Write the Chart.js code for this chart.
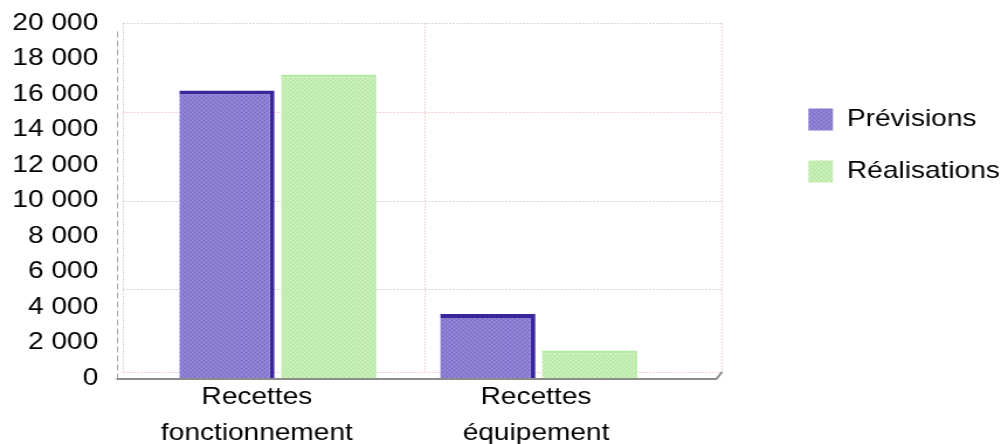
<!DOCTYPE html>
<html lang="fr">
<head>
<meta charset="utf-8">
<title>Recettes</title>
<script src="https://cdn.jsdelivr.net/npm/chart.js@4"></script>
<style>
  html, body { margin: 0; background: #fff; }
  canvas { display: block; }
</style>
</head>
<body>
<!-- the original picture is stretched sideways, so the canvas is too -->
<canvas id="recettesChart" width="856" height="444" style="width:1001px;height:444px"></canvas>
<script>
const categories = [['Recettes', 'fonctionnement'], ['Recettes', 'équipement']];
const previsions = [16200, 3600];
const realisations = [17100, 1550];
const yTicks = [0, 2000, 4000, 6000, 8000, 10000, 12000, 14000, 16000, 18000, 20000];
const gridValues = [0, 5000, 10000, 15000, 20000];

// x axis layout (in category units)
const X_MIN = -0.594;
const UNIT_PX = 223.1;
const MID_LINE = 0.563;
const FRAME_RIGHT = 1.70;
const LABEL_SHIFT = [-0.08, -0.01]; // the category labels sit a bit left of the bars

const xFont = { family: 'Liberation Sans, Arial, sans-serif', size: 24, lineHeight: 1.5 };
const yFont = { family: 'Liberation Sans, Arial, sans-serif', size: 24, lineHeight: 1.2 };
const legendFont = { family: 'Liberation Sans, Arial, sans-serif', size: 24 };

const canvas = document.getElementById('recettesChart');
const ctx = canvas.getContext('2d');

function makePattern(base, dotA, dotB) {
  const c = document.createElement('canvas');
  c.width = 4;
  c.height = 4;
  const g = c.getContext('2d');
  g.fillStyle = base;
  g.fillRect(0, 0, 4, 4);
  g.fillStyle = dotA;
  g.fillRect(0, 0, 1, 1);
  g.fillRect(2, 2, 1, 1);
  g.fillStyle = dotB;
  g.fillRect(2, 0, 1, 1);
  g.fillRect(0, 2, 1, 1);
  return ctx.createPattern(c, 'repeat');
}

function formatNumber(v) {
  return String(v).replace(/\B(?=(\d{3})+(?!\d))/g, ' ');
}

function noPadding(scale) {
  scale.paddingTop = 0;
  scale.paddingBottom = 0;
  scale.paddingLeft = 0;
  scale.paddingRight = 0;
}

// dotted back wall, grid and floor line
const framePlugin = {
  id: 'frame',
  beforeDatasetsDraw(chart) {
    const { ctx, scales: { x, y } } = chart;
    const left = Math.round(x.getPixelForValue(X_MIN)) + 0.5;
    const mid = Math.round(x.getPixelForValue(MID_LINE)) + 0.5;
    const right = Math.round(x.getPixelForValue(FRAME_RIGHT)) + 0.5;
    const top = Math.round(y.getPixelForValue(20000)) + 0.5;
    const bottom = Math.round(y.getPixelForValue(0));

    ctx.save();
    ctx.lineWidth = 1;
    ctx.setLineDash([1, 2]);
    gridValues.forEach(v => {
      let py = Math.round(y.getPixelForValue(v)) + 0.5;
      if (v === 0) py -= 6;
      ctx.strokeStyle = (v === 0 || v === 15000) ? '#eca4a4' : '#b4b4b4';
      ctx.beginPath();
      ctx.moveTo(left, py);
      ctx.lineTo(right, py);
      ctx.stroke();
    });
    [[left, '#b4b4b4'], [mid, '#eca4a4'], [right, '#e0a8a8']].forEach(([px, col]) => {
      ctx.strokeStyle = col;
      ctx.beginPath();
      ctx.moveTo(px, top);
      ctx.lineTo(px, bottom - 6);
      ctx.stroke();
    });
    // side wall edge
    ctx.setLineDash([6, 3]);
    ctx.strokeStyle = '#a0a0a0';
    ctx.beginPath();
    ctx.moveTo(left - 5, top + 8);
    ctx.lineTo(left - 5, bottom + 1);
    ctx.stroke();
    // floor
    ctx.setLineDash([]);
    ctx.strokeStyle = '#8c8c8c';
    ctx.lineWidth = 2;
    ctx.beginPath();
    ctx.moveTo(left - 6, bottom + 1);
    ctx.lineTo(right - 5, bottom + 1);
    ctx.lineTo(right, bottom - 6);
    ctx.stroke();
    ctx.restore();
  }
};

new Chart(ctx, {
  type: 'bar',
  data: {
    datasets: [
      {
        label: 'Prévisions',
        data: previsions.map((v, i) => ({ x: i, y: v })),
        backgroundColor: makePattern('#8a7ed4', '#a48ccc', '#7468cc'),
        borderColor: '#3a269c',
        borderWidth: { top: 4, right: 4, left: 0, bottom: 0 }
      },
      {
        label: 'Réalisations',
        data: realisations.map((v, i) => ({ x: i, y: v })),
        backgroundColor: makePattern('#c2eeb2', '#e6eec0', '#a6e4a4'),
        borderColor: '#b2eaa0',
        borderWidth: { top: 3, right: 2, left: 0, bottom: 0 }
      }
    ]
  },
  options: {
    responsive: false,
    devicePixelRatio: 1,
    animation: false,
    categoryPercentage: 0.78,
    barPercentage: 0.936,
    layout: { padding: { top: 23, right: -9, bottom: 0, left: 0 } },
    plugins: {
      tooltip: { enabled: false },
      legend: {
        position: 'right',
        align: 'start',
        title: { display: true, text: '', padding: { top: 42, bottom: 0 }, font: { size: 12 } },
        labels: {
          boxWidth: 21,
          boxHeight: 22,
          padding: 28,
          font: legendFont,
          color: '#000',
          generateLabels(chart) {
            const items = Chart.defaults.plugins.legend.labels.generateLabels(chart);
            items.forEach(it => { it.lineWidth = 0; it.strokeStyle = 'rgba(0,0,0,0)'; });
            return items;
          }
        }
      }
    },
    scales: {
      x: {
        type: 'linear',
        offset: false,
        bounds: 'data',
        afterDataLimits(scale) {
          scale.min = X_MIN;
          scale.max = X_MIN + scale.width / UNIT_PX;
        },
        afterBuildTicks(scale) {
          scale.ticks = categories.map((c, i) => ({ value: i + LABEL_SHIFT[i] }));
        },
        afterFit(scale) {
          scale.height = 66;
          noPadding(scale);
        },
        ticks: {
          callback: (v, i) => categories[i],
          font: xFont,
          color: '#000',
          padding: 1,
          autoSkip: false,
          maxRotation: 0
        },
        grid: { display: false, drawTicks: false },
        border: { display: false }
      },
      y: {
        min: 0,
        max: 20000,
        afterBuildTicks(scale) {
          scale.ticks = yTicks.map(v => ({ value: v }));
        },
        afterFit(scale) {
          scale.width = 105;
          noPadding(scale);
        },
        ticks: {
          callback: v => formatNumber(v),
          font: yFont,
          color: '#000',
          padding: 21,
          autoSkip: false
        },
        grid: { display: false, drawTicks: false },
        border: { display: false }
      }
    }
  },
  plugins: [framePlugin]
});
</script>
</body>
</html>
